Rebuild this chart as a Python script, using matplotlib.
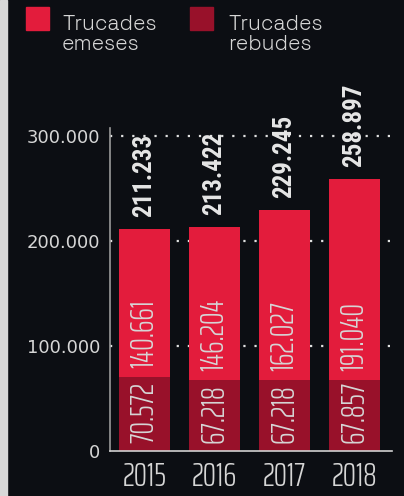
import matplotlib.pyplot as plt
from matplotlib.patches import Rectangle

years = ["2015", "2016", "2017", "2018"]
rebudes = [70572, 67218, 67218, 67857]
emeses = [140661, 146204, 162027, 191040]
totals = [211233, 213422, 229245, 258897]
yticks = [0, 100000, 200000, 300000]
ytick_labels = ["0", "100.000", "200.000", "300.000"]

bg = "#0c0e13"
red = "#e31c3c"
dark = "#98112a"
txt = "#d6d6d6"
light_font = ["Saira ExtraCondensed", "DejaVu Sans"]
bold_font = ["Roboto Condensed", "DejaVu Sans"]
grot = ["Space Grotesk", "DejaVu Sans"]

def fmt(v):
    return "{:,}".format(v).replace(",", ".")

fig = plt.figure(figsize=(4.04, 4.96), dpi=100, facecolor=bg)
ax = fig.add_axes([110/404, 1-451/496, (392-110)/404, (451-128)/496])
ax.set_facecolor(bg)

# strip on the left edge
fig.add_artist(Rectangle((0, 0), 7/404, 1, transform=fig.transFigure,
                         color="#d8d8d8", zorder=0))

x = range(len(years))
w = 0.73
ax.bar(x, rebudes, w, color=dark, zorder=2)
ax.bar(x, emeses, w, bottom=rebudes, color=red, zorder=2)

for yv in yticks[1:]:
    ax.axhline(yv, color="#e0e0e0", lw=1.6, linestyle=(0, (1, 4)), zorder=1)

for i in x:
    ax.annotate(fmt(rebudes[i]), (i, 0), xytext=(0, 8), textcoords="offset pixels",
                rotation=90, ha="center", va="bottom", color=txt,
                family=light_font, fontweight=300, fontsize=23, zorder=3)
    ax.annotate(fmt(emeses[i]), (i, rebudes[i]), xytext=(0, 9), textcoords="offset pixels",
                rotation=90, ha="center", va="bottom", color=txt,
                family=light_font, fontweight=300, fontsize=23, zorder=3)
    ax.annotate(fmt(totals[i]), (i, totals[i]), xytext=(0, 12), textcoords="offset pixels",
                rotation=90, ha="center", va="bottom", color="#e6e6e6",
                family=bold_font, fontweight="bold", fontsize=18, zorder=3)

ax.set_xlim(-0.495, 3.54)
ax.set_ylim(0, 307600)
ax.set_xticks(list(x))
ax.set_xticklabels(years, family=light_font, fontweight=300, fontsize=24, color=txt)
ax.set_yticks(yticks)
ax.set_yticklabels(ytick_labels, fontsize=13, color=txt)
ax.tick_params(axis="both", length=0)
ax.tick_params(axis="y", pad=7)
ax.tick_params(axis="x", pad=8)
for s in ["top", "right"]:
    ax.spines[s].set_visible(False)
ax.spines["left"].set_color("#9a9a9a")
ax.spines["bottom"].set_color("#d0d0d0")
ax.spines["left"].set_linewidth(1.2)
ax.spines["bottom"].set_linewidth(1.2)

# legend
for sx, tx, col, lab in [(26, 62, red, "Trucades\nemeses"), (190, 228, dark, "Trucades\nrebudes")]:
    fig.add_artist(Rectangle((sx/404, 1-30/496), 23/404, 23/496,
                             transform=fig.transFigure, color=col))
    fig.text(tx/404, 1-15/496, lab, ha="left", va="top", color=txt,
             family=grot, fontsize=15, linespacing=1.1)

fig.savefig("out.png", dpi=100, facecolor=bg)
